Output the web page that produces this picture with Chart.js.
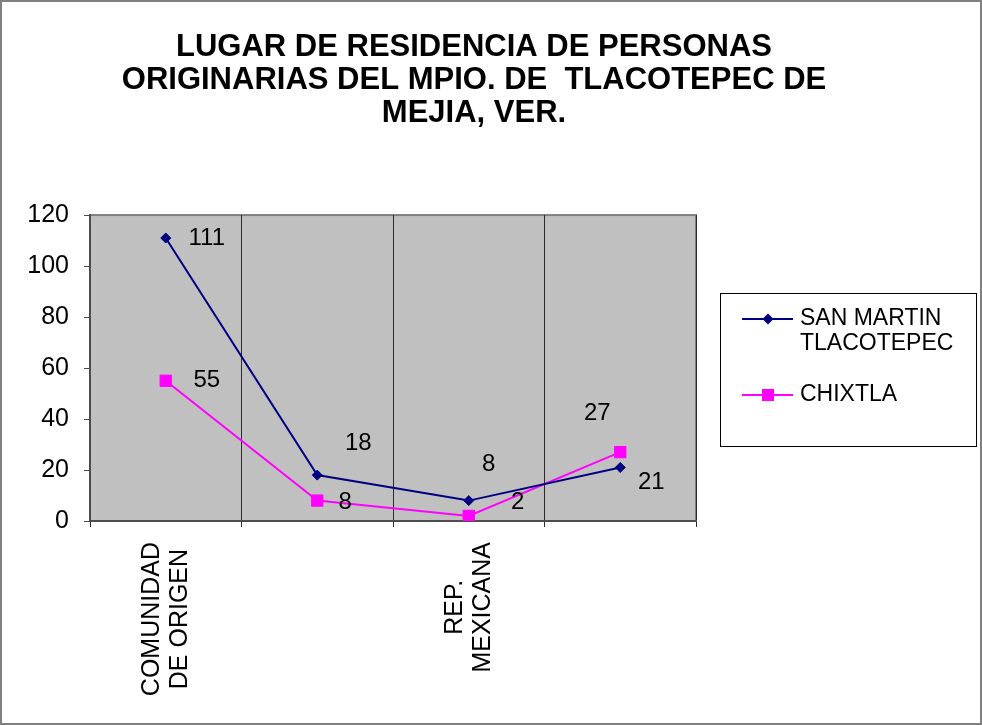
<!DOCTYPE html>
<html>
<head>
<meta charset="utf-8">
<script src="https://cdn.jsdelivr.net/npm/chart.js@4"></script>
<style>
  html, body { margin: 0; padding: 0; background: #fff; }
  canvas { display: block; }
</style>
</head>
<body>
<canvas id="chart" width="982" height="725"></canvas>
<script>
// datos de la grafica
const titleLines = ["LUGAR DE RESIDENCIA DE PERSONAS", "ORIGINARIAS DEL MPIO. DE  TLACOTEPEC DE", "MEJIA, VER."];
const categories = [["COMUNIDAD", "DE ORIGEN"], "", ["REP.", "MEXICANA"], ""];
const sanMartin = [111, 18, 8, 21];
const chixtla = [55, 8, 2, 27];
const seriesNames = [["SAN MARTIN", "TLACOTEPEC"], ["CHIXTLA"]];
const yMin = 0, yMax = 120, yStep = 20;

const FONT = '"Liberation Sans", Arial, sans-serif';

// fondo gris del area de trazado y marco exterior
const fondo = {
  id: 'fondo',
  beforeDraw(chart) {
    const { ctx, chartArea: a } = chart;
    ctx.save();
    ctx.fillStyle = '#fff';
    ctx.fillRect(0, 0, chart.width, chart.height);
    ctx.fillStyle = '#c0c0c0';
    ctx.fillRect(a.left, a.top, a.right - a.left, a.bottom - a.top);
    ctx.strokeStyle = '#808080';
    ctx.lineWidth = 2;
    ctx.strokeRect(a.left, a.top, a.right - a.left, a.bottom - a.top);
    ctx.strokeRect(1, 1, chart.width - 2, chart.height - 2);
    ctx.restore();
  }
};

// etiquetas del eje X giradas, lineas centradas
const etiquetasX = {
  id: 'etiquetasX',
  afterDraw(chart) {
    const { ctx } = chart;
    const x = chart.scales.x;
    ctx.save();
    ctx.font = '25px ' + FONT;
    ctx.fillStyle = '#000';
    ctx.textAlign = 'center';
    ctx.textBaseline = 'middle';
    categories.forEach((lab, i) => {
      const lines = [].concat(lab).filter(s => s);
      if (!lines.length) return;
      const px = x.getPixelForValue(i);
      const widest = Math.max(...lines.map(l => ctx.measureText(l).width));
      const cy = x.top + 21 + widest / 2;
      ctx.save();
      ctx.translate(px, cy);
      ctx.rotate(-Math.PI / 2);
      lines.forEach((l, j) => ctx.fillText(l, 0, (j - (lines.length - 1) / 2) * 28));
      ctx.restore();
    });
    ctx.restore();
  }
};

// valores junto a cada punto
const valores = {
  id: 'valores',
  afterDatasetsDraw(chart, args, opts) {
    const { ctx } = chart;
    ctx.save();
    ctx.font = '24px ' + FONT;
    ctx.fillStyle = '#000';
    ctx.textAlign = 'center';
    ctx.textBaseline = 'middle';
    chart.data.datasets.forEach((ds, d) => {
      const meta = chart.getDatasetMeta(d);
      meta.data.forEach((pt, i) => {
        const off = opts.offsets[d][i];
        ctx.fillText(String(ds.data[i]), pt.x + off[0], pt.y + off[1]);
      });
    });
    ctx.restore();
  }
};

function marcador(ctx, style, r, x, y, color) {
  ctx.fillStyle = color;
  ctx.beginPath();
  if (style === 'rectRot') {
    ctx.moveTo(x, y - r); ctx.lineTo(x + r, y); ctx.lineTo(x, y + r); ctx.lineTo(x - r, y);
  } else {
    const s = r * Math.SQRT1_2;
    ctx.rect(x - s, y - s, 2 * s, 2 * s);
  }
  ctx.closePath();
  ctx.fill();
}

// leyenda con recuadro a la derecha
const leyenda = {
  id: 'leyenda',
  afterDraw(chart, args, o) {
    const { ctx } = chart;
    ctx.save();
    ctx.fillStyle = '#fff';
    ctx.fillRect(o.left, o.top, o.width, o.height);
    ctx.strokeStyle = '#000';
    ctx.lineWidth = 1;
    ctx.strokeRect(o.left + 0.5, o.top + 0.5, o.width, o.height);
    ctx.font = '23px ' + FONT;
    ctx.textBaseline = 'middle';
    ctx.textAlign = 'left';
    chart.data.datasets.forEach((ds, d) => {
      const y = o.rows[d];
      ctx.strokeStyle = ds.borderColor;
      ctx.lineWidth = 2;
      ctx.beginPath();
      ctx.moveTo(o.left + 22, y);
      ctx.lineTo(o.left + 73, y);
      ctx.stroke();
      marcador(ctx, ds.pointStyle, ds.pointRadius + 0.5, o.left + 48, y, ds.borderColor);
      ctx.fillStyle = '#000';
      seriesNames[d].forEach((t, j) => ctx.fillText(t, o.left + 80, y + j * 25));
    });
    ctx.restore();
  }
};

new Chart(document.getElementById('chart'), {
  type: 'line',
  data: {
    labels: categories,
    datasets: [
      {
        label: seriesNames[0].join(' '),
        data: sanMartin,
        borderColor: '#000080',
        backgroundColor: '#000080',
        borderWidth: 2,
        pointStyle: 'rectRot',
        pointRadius: 5,
        pointBorderWidth: 1,
        tension: 0
      },
      {
        label: seriesNames[1].join(' '),
        data: chixtla,
        borderColor: '#ff00ff',
        backgroundColor: '#ff00ff',
        borderWidth: 2,
        pointStyle: 'rect',
        pointRadius: 8,
        pointBorderWidth: 1,
        tension: 0
      }
    ]
  },
  options: {
    responsive: false,
    animation: false,
    layout: { padding: { left: 0, right: 34, top: 0, bottom: 0 } },
    plugins: {
      legend: { display: false },
      tooltip: { enabled: false },
      title: {
        display: true,
        text: titleLines,
        color: '#000',
        font: { family: FONT, size: 31, weight: 'bold', lineHeight: 1.065 },
        padding: { top: 31, bottom: 85 }
      },
      valores: {
        offsets: [
          [[41, 0], [41, -32], [20, -36], [31, 15]],
          [[41, 0], [28, 2], [49, -14], [-23, -39]]
        ]
      },
      leyenda: { left: 720, top: 293, width: 256, height: 153, rows: [319, 395] }
    },
    scales: {
      x: {
        offset: true,
        grid: { offset: true, color: '#2b2b2b', lineWidth: 1, tickLength: 6, drawTicks: true },
        border: { color: '#4d4d4d', width: 2 },
        ticks: { display: false, autoSkip: false },
        afterFit(s) { s.height = 204; }
      },
      y: {
        min: yMin,
        max: yMax,
        ticks: { stepSize: yStep, color: '#000', padding: 15, font: { family: FONT, size: 25 } },
        grid: { drawOnChartArea: false, tickLength: 6, color: '#4d4d4d' },
        border: { color: '#4d4d4d', width: 2 },
        afterFit(s) { s.width = 90; }
      },
      yR: {
        position: 'right',
        grid: { display: false },
        border: { display: false },
        ticks: { display: false },
        afterFit(s) { s.width = 252; }
      }
    }
  },
  plugins: [fondo, valores, etiquetasX, leyenda]
});
</script>
</body>
</html>
